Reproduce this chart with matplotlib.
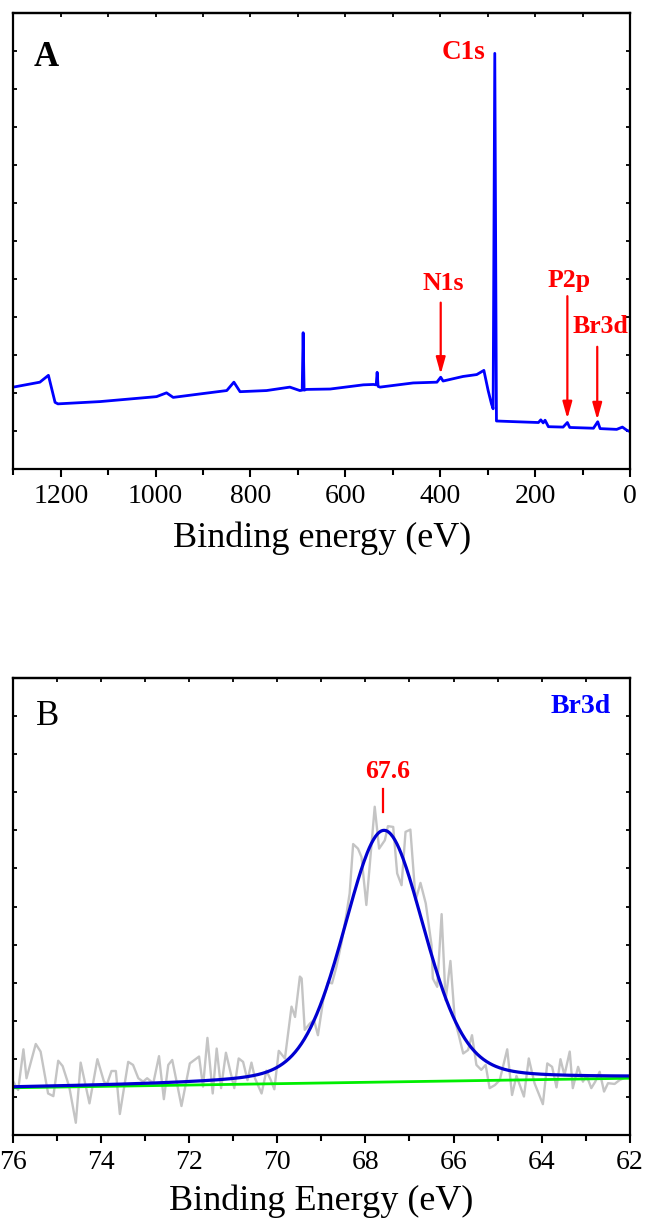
import numpy as np
import matplotlib
matplotlib.use('Agg')
import matplotlib.pyplot as plt
from matplotlib.ticker import MultipleLocator, NullFormatter

plt.rcParams['font.family'] = ['Liberation Serif', 'DejaVu Serif']

# ---------------- Panel A: survey spectrum ----------------
survey_be = [1300, 1244, 1226, 1212, 1206, 1117, 998, 977, 963, 907, 850, 835, 822,
             766, 717, 696, 691, 689, 687, 682, 632, 562, 541, 535, 533, 531, 527,
             457, 407, 399, 394, 352, 323, 308, 299, 292, 288.5, 285, 281.5, 239,
             193, 188, 183, 179, 172, 141, 132, 127, 77, 68, 63, 28, 16, 7, 0]
survey_int = [2.16, 2.29, 2.47, 1.76, 1.72, 1.78, 1.91, 2.01, 1.89, 1.98, 2.07, 2.29, 2.04,
              2.07, 2.16, 2.07, 2.08, 3.59, 2.08, 2.10, 2.11, 2.22, 2.23, 2.22, 2.55, 2.18, 2.16,
              2.27, 2.29, 2.42, 2.32, 2.44, 2.49, 2.60, 2.07, 1.72, 1.59, 10.93, 1.27, 1.25,
              1.23, 1.30, 1.22, 1.29, 1.12, 1.11, 1.23, 1.10, 1.08, 1.25, 1.07, 1.05, 1.11, 1.03, 0.99]

# peak labels
peak_names = ['N1s', 'P2p', 'Br3d']
peak_be = [399, 132, 69]
arrow_top = [4.38, 4.55, 3.22]
arrow_tip = [2.50, 1.33, 1.30]
text_be = [394, 128, 63]
text_y = [4.88, 4.97, 3.74]

# ---------------- Panel B: Br3d high resolution ----------------
raw_be = [76.00, 75.89, 75.77, 75.70, 75.49, 75.38, 75.21, 75.09, 74.98, 74.88, 74.73, 74.58,
          74.47, 74.27, 74.09, 73.94, 73.87, 73.77, 73.67, 73.58, 73.39, 73.28, 73.16, 73.05,
          72.96, 72.82, 72.69, 72.58, 72.48, 72.39, 72.29, 72.18, 71.99, 71.78, 71.69, 71.59,
          71.47, 71.38, 71.28, 71.17, 70.98, 70.88, 70.78, 70.68, 70.59, 70.51, 70.36, 70.25,
          70.15, 70.07, 69.97, 69.83, 69.68, 69.60, 69.49, 69.45, 69.38, 69.26, 69.17, 69.08,
          68.96, 68.85, 68.76, 68.66, 68.54, 68.43, 68.36, 68.28, 68.17, 68.09, 67.98, 67.89,
          67.79, 67.69, 67.56, 67.49, 67.37, 67.28, 67.18, 67.09, 66.98, 66.86, 66.75, 66.63,
          66.50, 66.47, 66.37, 66.27, 66.18, 66.07, 65.97, 65.88, 65.78, 65.67, 65.58, 65.48,
          65.37, 65.27, 65.18, 65.06, 64.95, 64.78, 64.67, 64.57, 64.40, 64.29, 64.16, 63.97,
          63.87, 63.76, 63.66, 63.57, 63.48, 63.36, 63.29, 63.17, 63.06, 62.98, 62.87, 62.78,
          62.68, 62.58, 62.49, 62.34, 62.23, 62.10]
raw_int = [1.40, 1.18, 2.25, 1.49, 2.39, 2.19, 1.09, 1.02, 1.95, 1.81, 1.27, 0.32,
           1.90, 0.83, 1.99, 1.40, 1.34, 1.68, 1.68, 0.55, 1.92, 1.84, 1.49, 1.40,
           1.49, 1.36, 2.07, 0.94, 1.84, 1.97, 1.40, 0.76, 1.88, 2.06, 1.27, 2.55,
           1.09, 2.27, 1.23, 2.16, 1.23, 2.01, 1.92, 1.44, 1.90, 1.49, 1.09, 1.69,
           1.44, 1.20, 2.21, 2.01, 3.37, 3.10, 4.16, 4.11, 2.76, 2.93, 3.02, 2.62,
           3.54, 4.02, 3.98, 4.42, 5.07, 5.82, 6.34, 7.64, 7.52, 7.30, 6.04, 7.26,
           8.62, 7.52, 7.74, 8.11, 8.09, 6.87, 6.56, 7.96, 8.02, 6.17, 6.62, 6.08,
           4.99, 4.11, 3.89, 5.80, 3.54, 4.57, 3.02, 2.62, 2.14, 2.23, 2.62, 1.84,
           1.71, 1.84, 1.23, 1.31, 1.44, 2.25, 1.05, 1.55, 1.01, 2.01, 1.36, 0.81,
           1.88, 1.79, 1.25, 1.99, 1.57, 2.19, 1.23, 1.79, 1.40, 1.57, 1.23, 1.40,
           1.66, 1.14, 1.36, 1.34, 1.44, 1.51]

# fitted component (pseudo-Voigt) and linear background
fit_center = 67.58
fit_fwhm = 2.17
fit_height = 6.61
fit_eta = 0.25
bg_be = [76.0, 62.0]
bg_int = [1.24, 1.49]
fit_label = '67.6'

# ---------------- figure ----------------
fig = plt.figure(figsize=(6.46, 12.27), dpi=100)
axA = fig.add_axes([0.0206, 0.6175, 0.9546, 0.3722])
axB = fig.add_axes([0.0206, 0.0750, 0.9540, 0.3724])


def style(ax, major, minor, xlim):
    ax.set_xlim(*xlim)
    ax.set_ylim(0, 12)
    ax.xaxis.set_major_locator(MultipleLocator(major))
    ax.xaxis.set_minor_locator(MultipleLocator(minor))
    ax.yaxis.set_major_locator(MultipleLocator(1))
    ax.tick_params(axis='x', which='major', direction='out', length=6, width=1.5,
                   labelsize=20, pad=4.5)
    ax.tick_params(axis='x', which='minor', direction='out', length=4.2, width=1.5)
    ax.tick_params(axis='y', which='major', direction='in', length=3, width=1.3,
                   left=True, right=True, labelleft=False)
    for s in ax.spines.values():
        s.set_linewidth(1.6)
    sec = ax.secondary_xaxis('top')
    sec.xaxis.set_major_locator(MultipleLocator(minor))
    sec.xaxis.set_major_formatter(NullFormatter())
    sec.tick_params(direction='in', length=3, width=1.3)
    sec.spines['top'].set_linewidth(1.6)


# Panel A
style(axA, 200, 100, (1300, 0))
axA.plot(survey_be, survey_int, color='#0000ff', lw=2.0)
axA.set_xlabel('Binding energy (eV)', fontsize=26, labelpad=9)
axA.text(1230, 10.82, 'A', fontsize=25, fontweight='bold', ha='center', va='center')
axA.text(352, 10.95, 'C1s', fontsize=19.5, fontweight='bold', color='red', ha='center', va='center')
for name, x, yt, ytip, tx, ty in zip(peak_names, peak_be, arrow_top, arrow_tip, text_be, text_y):
    axA.annotate('', xy=(x, ytip), xytext=(x, yt),
                 arrowprops=dict(arrowstyle='-|>,head_length=1.0,head_width=0.28',
                                 color='red', lw=1.6, shrinkA=0, shrinkB=0))
    axA.text(tx, ty, name, fontsize=18.5, fontweight='bold', color='red', ha='center', va='center')

# Panel B
style(axB, 2, 1, (76, 62))
xb = np.linspace(76, 62, 600)
bg = np.interp(xb, bg_be[::-1], bg_int[::-1])
d = (xb - fit_center) / (fit_fwhm / 2)
peak = fit_height * (fit_eta / (1 + d ** 2) + (1 - fit_eta) * np.exp(-np.log(2) * d ** 2))
axB.plot(raw_be, raw_int, color='#c4c4c4', lw=1.7)
axB.plot(bg_be, bg_int, color='#00ee00', lw=2.0)
axB.plot(xb, bg + peak, color='#0000d0', lw=2.3)
axB.set_xlabel('Binding Energy (eV)', fontsize=26, labelpad=7)
axB.text(75.23, 11.0, 'B', fontsize=25, ha='center', va='center')
axB.text(63.1, 11.25, 'Br3d', fontsize=20, fontweight='bold', color='#0000ff', ha='center', va='center')
axB.text(67.5, 9.55, fit_label, fontsize=18.5, fontweight='bold', color='red', ha='center', va='center')
axB.plot([67.6, 67.6], [8.48, 9.08], color='red', lw=1.6)

fig.savefig('out.png', dpi=100)
